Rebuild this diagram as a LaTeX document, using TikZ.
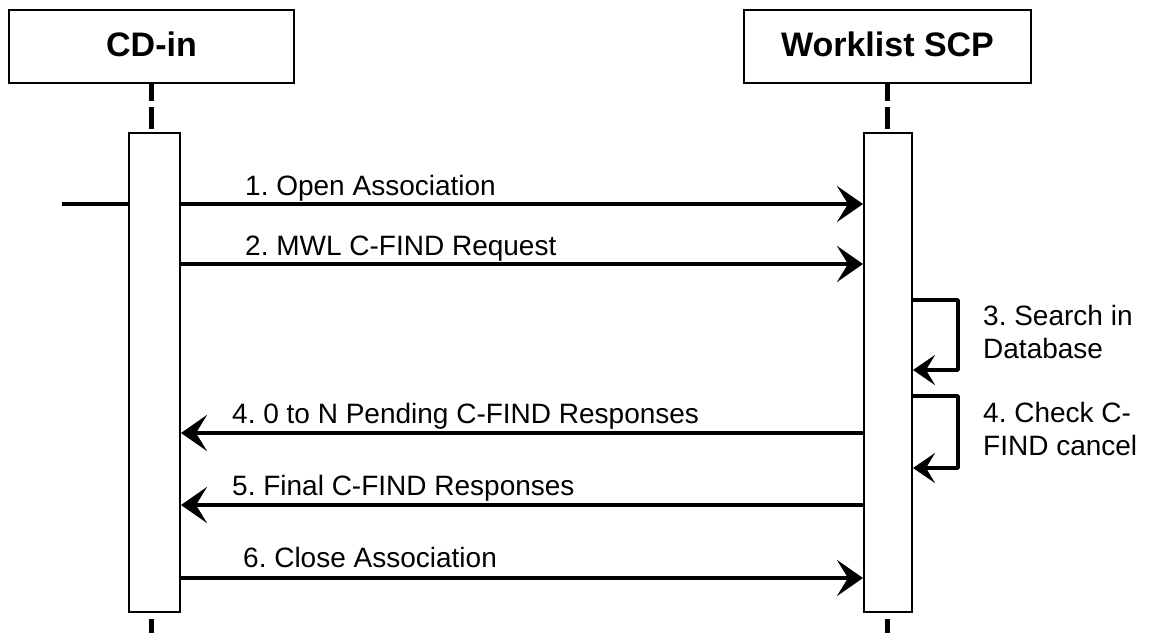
\documentclass[tikz,border=0pt]{standalone}
\usepackage{fontspec}
\setmainfont{Liberation Sans}
\usetikzlibrary{arrows.meta,backgrounds}
\frenchspacing
\begin{document}
\begin{tikzpicture}[x=1pt,y=-1pt,
 titlebox/.style={draw,line width=2.5pt,fill=white,minimum height=73pt,inner sep=0,
   text height=25pt,text depth=6pt,font=\fontsize{34}{40}\selectfont\bfseries},
 actbox/.style={draw,line width=2pt,fill=white,inner sep=0},
 lifeline/.style={line width=4.5pt,dash pattern=on 22pt off 6pt},
 msg/.style={line width=4pt,-{Stealth[length=26pt,width=36pt,inset=11pt]}},
 selfmsg/.style={line width=3.5pt,line join=round,-{Stealth[length=22pt,width=30pt,inset=9pt]}},
 lbl/.style={inner sep=0,anchor=base west,font=\fontsize{28}{33}\selectfont},
]
\useasboundingbox (0,0) rectangle (1150,633);
% participants
\node[titlebox,minimum width=285pt] (cd) at (151.5,46.5) {CD-in};
\node[titlebox,minimum width=287pt] (wl) at (887.5,46.5) {Worklist SCP};
% activations
\node[actbox,minimum width=51pt,minimum height=479pt] (cda) at (154.5,372.5) {};
\node[actbox,minimum width=48pt,minimum height=479pt] (wla) at (888,372.5) {};
% helper coordinates
\coordinate (bot) at (0,633);
\coordinate (found) at (62,204);
\coordinate (y1) at (0,204);
\coordinate (y2) at (0,264);
\coordinate (y4) at (0,433);
\coordinate (y5) at (0,505);
\coordinate (y6) at (0,578);
\coordinate (s3t) at (0,300);
\coordinate (s3b) at (0,370);
\coordinate (s4t) at (0,396);
\coordinate (s4b) at (0,468);
\coordinate (loopx) at (958,0);
\begin{pgfonlayer}{background}
 \draw[lifeline,dash phase=5pt] (cd.south) -- (cd.south |- cda.north);
 \draw[lifeline,dash phase=5pt] (wl.south) -- (wl.south |- wla.north);
 \draw[lifeline,dash phase=22pt] (cd.south |- cda.south) -- (cd.south |- bot);
 \draw[lifeline,dash phase=22pt] (wl.south |- wla.south) -- (wl.south |- bot);
 \draw[msg] (found) -- (wla.west |- y1);
\end{pgfonlayer}
% messages
\draw[msg] (cda.east |- y2) -- (wla.west |- y2);
\draw[msg] (wla.west |- y4) -- (cda.east |- y4);
\draw[msg] (wla.west |- y5) -- (cda.east |- y5);
\draw[msg] (cda.east |- y6) -- (wla.west |- y6);
% self messages
\draw[selfmsg] (wla.east |- s3t) -- (loopx |- s3t) -- (loopx |- s3b) -- (wla.east |- s3b);
\draw[selfmsg] (wla.east |- s4t) -- (loopx |- s4t) -- (loopx |- s4b) -- (wla.east |- s4b);
% labels
\node[lbl] (l1) at (245,195) {1. Open Association};
\node[lbl] (l2) at (245,255) {2. MWL C-FIND Request};
\node[lbl] (l4) at (232,423) {4. 0 to N Pending C-FIND Responses};
\node[lbl] (l5) at (232,495) {5. Final C-FIND Responses};
\node[lbl] (l6) at (243,567) {6. Close Association};
\node[lbl,align=left] (l3s) at (983,358) {3. Search in\\Database};
\node[lbl,align=left] (l4s) at (983,455) {4. Check C-\\FIND cancel};
\end{tikzpicture}
\end{document}
